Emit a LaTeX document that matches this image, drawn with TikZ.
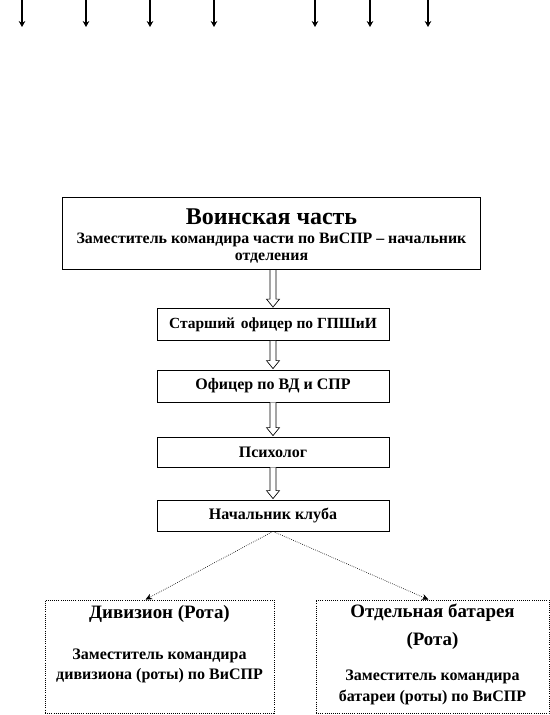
\documentclass[tikz,border=0pt]{standalone}
\usepackage{fontspec}
\setmainfont{Liberation Serif}
\usetikzlibrary{arrows.meta,calc}
\begin{document}
\begin{tikzpicture}[x=0.75pt,y=-0.75pt,
  mainbox/.style={draw,line width=1pt,minimum width={418*0.75pt},minimum height={72*0.75pt},inner sep=0pt},
  midbox/.style={draw,line width=0.6pt,minimum width={232*0.75pt},minimum height={32*0.75pt},inner sep=0pt,font=\bfseries\fontsize{12}{14}\selectfont},
  lowbox/.style={draw,line width=0.6pt,densely dotted,minimum width={229*0.75pt},minimum height={113*0.75pt},inner sep=0pt},
  txt/.style={inner sep=0pt,align=center},
  lowtitle/.style={txt,font=\bfseries\fontsize{14.2}{16}\selectfont},
  lowsub/.style={txt,font=\bfseries\fontsize{12}{14}\selectfont},
  toparrow/.style={line width=0.8pt,-{Stealth[length=4.5pt,width=5pt]}},
  harrow/.style={line width=0.5pt,fill=white},
  diag/.style={line width=0.5pt,densely dotted,-{Stealth[length=5pt,width=4.5pt,line width=0.5pt]}},
]
\useasboundingbox (0,0) rectangle (550,715);

% top arrows
\foreach \i/\xx in {1/22,2/86,3/150,4/214,5/315,6/370,7/428}{
  \coordinate (ts\i) at (\xx,0);
  \coordinate (te\i) at (\xx,27);
  \draw[toparrow] (ts\i) -- (te\i);
}

% main box
\node[mainbox] (main) at (271.5,233.5) {};
\node[txt,font=\bfseries\fontsize{18}{20}\selectfont] (mainT) at (271.5,217) {Воинская часть};
\node[txt,font=\bfseries\fontsize{11.9}{14}\selectfont] (mainS1) at (271.5,240) {Заместитель командира части по ВиСПР – начальник};
\node[txt,font=\bfseries\fontsize{11.9}{14}\selectfont] (mainS2) at (271.5,258) {отделения};

% middle boxes
\node[midbox] (b2) at (273,324.5) {\fontsize{11.6}{14}\selectfont Старший \hspace{1.5pt}офицер по ГПШиИ};
\node[midbox] (b3) at (273,386) {Офицер по ВД и СПР};
\node[midbox,minimum height={30*0.75pt}] (b4) at (273,452) {Психолог};
\node[midbox,minimum height={31*0.75pt}] (b5) at (273,515.5) {Начальник клуба};

% lower boxes
\node[lowbox] (b6) at (159.5,656.5) {};
\node[lowtitle] (b6T) at (159.5,614) {Дивизион (Рота)};
\node[lowsub] (b6S1) at (159.5,656) {Заместитель командира};
\node[lowsub] (b6S2) at (159.5,676) {дивизиона (роты) по ВиСПР};

\node[lowbox,minimum width={233*0.75pt}] (b7) at (432.5,656.5) {};
\node[lowtitle] (b7T1) at (432.5,613) {Отдельная батарея};
\node[lowtitle] (b7T2) at (432.5,641) {(Рота)};
\node[lowsub] (b7S1) at (432.5,677) {Заместитель командира};
\node[lowsub] (b7S2) at (432.5,697) {батареи (роты) по ВиСПР};

% hollow block arrows
\newcommand\hollowarrow[2]{%
  \draw[harrow] ($(#1.south -| #2.north)+(-3,0)$) -- ($(#2.north)+(-3,-9)$) -- ($(#2.north)+(-6.5,-9)$) -- ($(#2.north)+(0,-1)$) -- ($(#2.north)+(6.5,-9)$) -- ($(#2.north)+(3,-9)$) -- ($(#1.south -| #2.north)+(3,0)$);}
\hollowarrow{main}{b2}
\hollowarrow{b2}{b3}
\hollowarrow{b3}{b4}
\hollowarrow{b4}{b5}

% diagonal arrows
\coordinate (d6) at ($(b6.north)+(-14,0)$);
\coordinate (d7) at ($(b7.north)+(-4,0)$);
\draw[diag] (b5.south) -- (d6);
\draw[diag] (b5.south) -- (d7);
\end{tikzpicture}
\end{document}
